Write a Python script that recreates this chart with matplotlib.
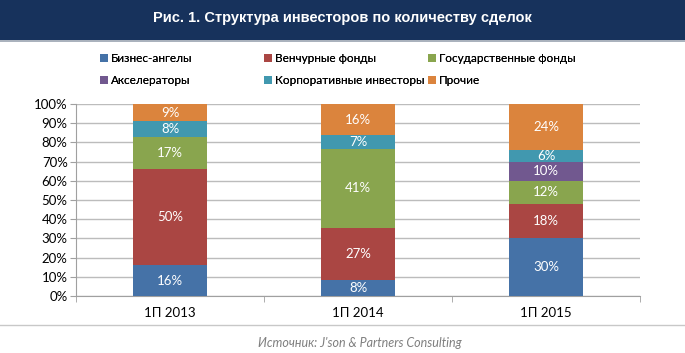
import numpy as np
import matplotlib
matplotlib.use("Agg")
import matplotlib.pyplot as plt
from matplotlib.patches import Rectangle
from matplotlib.lines import Line2D
from matplotlib.ticker import FuncFormatter, MultipleLocator

plt.rcParams['font.family'] = ['Lato', 'DejaVu Sans']

periods = ["1П 2013", "1П 2014", "1П 2015"]
series = ["Бизнес-ангелы", "Венчурные фонды", "Государственные фонды",
          "Акселераторы", "Корпоративные инвесторы", "Прочие"]
angels = [16, 8, 30]
venture = [50, 27, 18]
state = [17, 41, 12]
accel = [0, 0, 10]
corporate = [8, 7, 6]
other = [9, 16, 24]
colors = ["#4572A7", "#AA4643", "#89A54E", "#71588F", "#4198AF", "#DB843D"]

values = np.array([angels, venture, state, accel, corporate, other], dtype=float)
shares = values / values.sum(axis=0) * 100

fig = plt.figure(figsize=(6.85, 3.53), dpi=100)
W, H = 685, 353

# title bar
fig.patches.append(Rectangle((0, 313 / H), 1, 40 / H, transform=fig.transFigure,
                             facecolor="#17325C", edgecolor="none", zorder=0))
fig.lines.append(Line2D([0, 1], [312.5 / H] * 2, transform=fig.transFigure,
                        color="#9aa3b0", lw=1.2))
fig.text(0.5, 335 / H, "Рис. 1. Структура инвесторов по количеству сделок",
         ha="center", va="center", color="white", fontsize=10.5, fontweight="bold",
         family=["Liberation Sans"])

ax = fig.add_axes([76 / W, 57 / H, 564 / W, 192 / H])
x = np.arange(len(periods))
bottom = np.zeros(len(periods))
handles = []
for i, name in enumerate(series):
    bars = ax.bar(x, shares[i], 0.39, bottom=bottom, color=colors[i], label=name,
                  zorder=3)
    handles.append(bars)
    for j in range(len(periods)):
        if values[i, j] > 0:
            ax.text(x[j], bottom[j] + shares[i, j] / 2, f"{int(values[i, j])}%",
                    ha="center", va="center", color="white", fontsize=9.5, zorder=4)
    bottom += shares[i]

ax.set_xlim(-0.5, 2.5)
ax.set_ylim(0, 100)
ax.yaxis.set_major_locator(MultipleLocator(10))
ax.yaxis.set_major_formatter(FuncFormatter(lambda v, p: f"{int(v)}%"))
ax.yaxis.grid(True, color="#bcbcbc", lw=1, zorder=0)
ax.set_xticks(x)
ax.set_xticklabels(periods)
ax.set_xticks([-0.5, 0.5, 1.5, 2.5], minor=True)
ax.tick_params(axis="x", which="major", length=0, pad=8, labelsize=9.5)
ax.tick_params(axis="x", which="minor", length=4, color="#a0a0a0")
ax.tick_params(axis="y", length=4, color="#a0a0a0", labelsize=9.5, pad=2)
for side in ["top", "right"]:
    ax.spines[side].set_visible(False)
for side in ["left", "bottom"]:
    ax.spines[side].set_color("#a0a0a0")

# legend: one entry per spot, 3 columns x 2 rows
col_x = [100, 264, 428]
row_y = [58.5, 81]
for k, name in enumerate(series):
    leg = fig.legend([handles[k]], [name], loc="center left",
                     bbox_to_anchor=(col_x[k % 3] / W, 1 - row_y[k // 3] / H),
                     frameon=False, fontsize=8.5, handlelength=0.65, handleheight=0.65,
                     handletextpad=0.3, borderpad=0, borderaxespad=0)
    fig.add_artist(leg)

fig.lines.append(Line2D([0, 1], [1 - 325 / H] * 2, transform=fig.transFigure,
                        color="#c8c8c8", lw=1))
fig.text(360 / W, 1 - 343 / H, "Источник: J'son & Partners Consulting",
         ha="center", va="center", color="#7f7f7f", fontsize=9, style="italic")

fig.savefig("out.png", dpi=100)
